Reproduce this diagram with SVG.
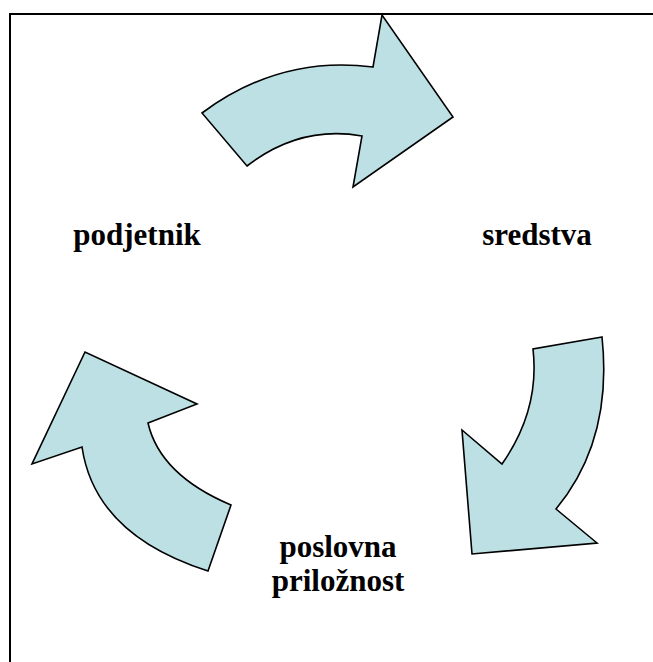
<svg xmlns="http://www.w3.org/2000/svg" width="653" height="662" viewBox="0 0 653 662">
  <style>
    .arrow { fill: #bce0e3; stroke: #000; stroke-width: 1.6; stroke-linejoin: miter; }
    .frame { fill: none; stroke: #000; stroke-width: 2; }
    .label { font-family: 'Liberation Serif', 'Times New Roman', serif; font-weight: 700; font-size: 31px; fill: #000; text-anchor: middle; }
  </style>
  <rect width="653" height="662" fill="#fff"/>
  <!-- page frame: only top and left edges fall inside the view -->
  <path class="frame" d="M10,670 V14 H660"/>

  <!-- curved cycle arrows -->
  <g id="connectors">
    <path id="arrow-top" class="arrow" d="M202,113 Q280,55 373,67 L382,15 L453,117 L353,187 L362,136 Q300,125 247,166 Z"/>
    <path id="arrow-right" class="arrow" d="M602,337 L533,349 Q540,410 502,464 L462,430 L472,554 L597,543 L556,509 Q613,440 602,337 Z"/>
    <path id="arrow-left" class="arrow" d="M208,571 Q95,535 82,447 L32,464 L85,352 L197,404 L148,423 Q160,475 231,505 Z"/>
  </g>

  <g id="node-podjetnik">
    <text class="label" x="137" y="245">podjetnik</text>
  </g>
  <g id="node-sredstva">
    <text class="label" x="537" y="245">sredstva</text>
  </g>
  <g id="node-poslovna-priloznost">
    <text class="label" x="338" y="557">poslovna</text>
    <text class="label" x="338" y="591">priložnost</text>
  </g>
</svg>
